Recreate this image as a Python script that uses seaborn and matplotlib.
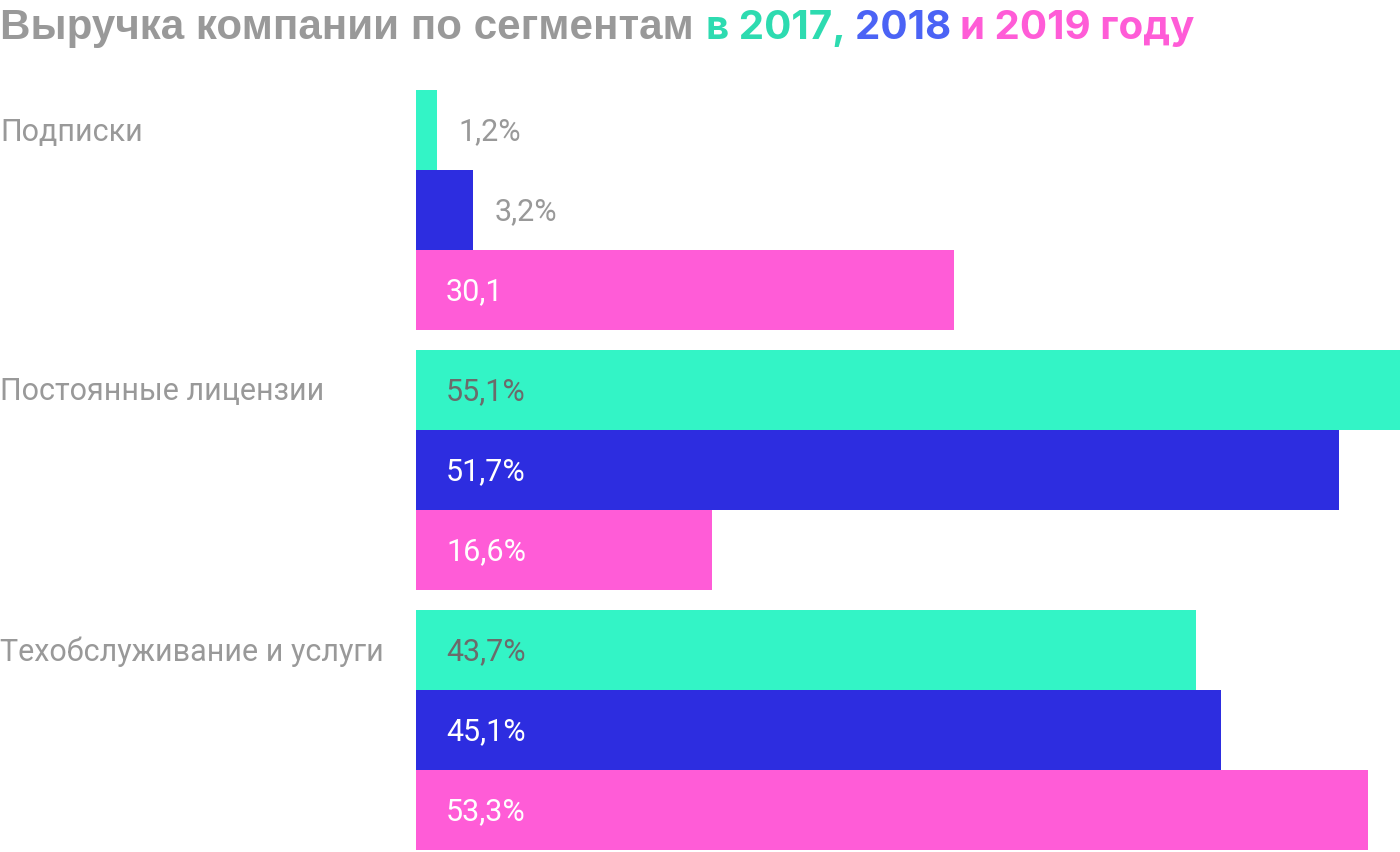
import matplotlib
matplotlib.use("Agg")
import matplotlib.pyplot as plt
import matplotlib.transforms as mtransforms
import numpy as np
import pandas as pd
import seaborn as sns

segments = ["Подписки", "Постоянные лицензии", "Техобслуживание и услуги"]
years = ["2017", "2018", "2019"]
share_2017 = [1.2, 55.1, 43.7]
share_2018 = [3.2, 51.7, 45.1]
share_2019 = [30.1, 16.6, 53.3]
labels_2017 = ["1,2%", "55,1%", "43,7%"]
labels_2018 = ["3,2%", "51,7%", "45,1%"]
labels_2019 = ["30,1", "16,6%", "53,3%"]

bar_colors = {"2017": "#33F4C6", "2018": "#2D2DE0", "2019": "#FF5CD7"}
inside_text = {"2017": "#6B6B6B", "2018": "white", "2019": "white"}
title_colors = ["#999999", "#2DDBB0", "#4B63F5", "#FF5CD7"]

df = pd.DataFrame({
    "segment": segments * 3,
    "year": [y for y in years for _ in segments],
    "value": share_2017 + share_2018 + share_2019,
})
label_map = {"2017": labels_2017, "2018": labels_2018, "2019": labels_2019}

sns.set_theme(style="white")
plt.rcParams["font.family"] = ["Roboto", "DejaVu Sans"]

W, H = 1400, 852
fig = plt.figure(figsize=(W / 100, H / 100), dpi=100)
ax = fig.add_axes([416 / W, 1 - 850 / H, 1 - 416 / W, (850 - 90) / H])

width = 240 / 260
sns.barplot(
    data=df, y="segment", x="value", hue="year", order=segments,
    hue_order=years, palette=bar_colors, orient="h", width=width,
    dodge=True, gap=0, legend=False, ax=ax, saturation=1, linewidth=0,
)
ax.set_xlim(0, max(df.value))
ax.set_ylim(len(segments) - 1 + width / 2, -width / 2)
ax.set_axis_off()

FS = 22
DY = -2 / 100  # nudge text down a touch
px = mtransforms.ScaledTranslation
for year, container in zip(years, ax.containers):
    for bar, txt in zip(container, label_map[year]):
        yc = bar.get_y() + bar.get_height() / 2
        w = bar.get_width()
        if w < 10:
            off = px(21 / 100, DY, fig.dpi_scale_trans)
            ax.text(w, yc, txt, transform=ax.transData + off, ha="left",
                    va="center", fontsize=FS, color="#999999")
        else:
            off = px(30 / 100, DY, fig.dpi_scale_trans)
            ax.text(0, yc, txt, transform=ax.transData + off, ha="left",
                    va="center", fontsize=FS, color=inside_text[year])

# segment names, aligned with the first bar of each group
first = ax.containers[0]
blend = mtransforms.blended_transform_factory(fig.transFigure, ax.transData)
for name, bar in zip(segments, first):
    ax.text(0, bar.get_y() + bar.get_height() / 2, name,
            transform=blend + px(0, DY, fig.dpi_scale_trans),
            ha="left", va="center", fontsize=FS, color="#999999")

# multicolour title
parts = ["Выручка компании по сегментам ", "в 2017, ", "2018 ", "и 2019 году"]
fams = [["Liberation Sans", "DejaVu Sans"]] + [["Inter", "DejaVu Sans"]] * 3
sizes = [30.3, 29, 29, 29]
fig.canvas.draw()
renderer = fig.canvas.get_renderer()
x = 0
for part, col, fam, fs in zip(parts, title_colors, fams, sizes):
    t = fig.text(x, 1 - 39 / H, part, fontsize=fs, fontweight="bold",
                 color=col, family=fam, ha="left", va="baseline")
    bb = t.get_window_extent(renderer=renderer)
    x += bb.width / W

fig.savefig("out.png", dpi=100)
